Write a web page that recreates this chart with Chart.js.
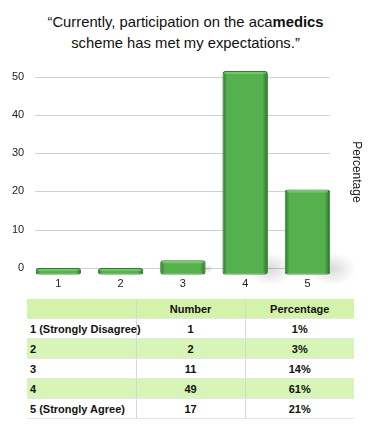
<!DOCTYPE html>
<html>
<head>
<meta charset="utf-8">
<script src="https://cdn.jsdelivr.net/npm/chart.js@4"></script>
<style>
  body { margin: 0; background: #fff; font-family: "Liberation Sans", Arial, sans-serif; }
  #title { position: absolute; left: 0; top: 12px; width: 371px; text-align: center;
           font-size: 14.8px; line-height: 21px; color: #111; }
  #wrap { position: absolute; left: 0; top: 55px; width: 381px; height: 242px; }
  #tbl { position: absolute; left: 27px; top: 299px; width: 327px; border-collapse: collapse;
         table-layout: fixed; font-size: 11px; font-weight: bold; color: #111; }
  #tbl td { height: 19px; padding: 0 3px; border-bottom: 1px solid #e6e6e6; border-left: 1px solid #d6d6d6;
            text-align: center; white-space: nowrap; }
  #tbl td:first-child { text-align: left; border-left: none; }
  #tbl tr.g td { background: #d6f5b6; }
  #tbl tr.h td { background: #d3f2aa; }
</style>
</head>
<body>
<div id="title">&ldquo;Currently, participation on the aca<b>medics</b><br>scheme has met my expectations.&rdquo;</div>
<div id="wrap"><canvas id="myChart"></canvas></div>
<table id="tbl"></table>
<script>
var categories = ['1', '2', '3', '4', '5'];
var barValues = [0, 0, 2, 51.5, 20.5];
var yTicks = [0, 10, 20, 30, 40, 50];

var rowLabels = ['1 (Strongly Disagree)', '2', '3', '4', '5 (Strongly Agree)'];
var numbers = [1, 2, 11, 49, 17];
var percentages = ['1%', '3%', '14%', '61%', '21%'];

// table under the chart
var tbl = document.getElementById('tbl');
var html = '<tr class="h"><td></td><td>Number</td><td>Percentage</td></tr>';
for (let i = 0; i < rowLabels.length; i++) {
  html += '<tr class="' + (i % 2 == 1 ? 'g' : '') + '"><td>' + rowLabels[i] + '</td><td>' +
    numbers[i] + '</td><td>' + percentages[i] + '</td></tr>';
}
tbl.innerHTML = html;

// grid lines only across the bars, floor shadows, bar shading
var decor = {
  id: 'decor',
  beforeDatasetsDraw: function(chart) {
    var ctx = chart.ctx, y = chart.scales.y, a = chart.chartArea;
    ctx.save();
    ctx.strokeStyle = '#d0d0d0';
    ctx.lineWidth = 1;
    yTicks.forEach(function(v) {
      var py = Math.round(y.getPixelForValue(v)) + 0.5;
      ctx.beginPath();
      ctx.moveTo(a.left + 8, py);
      ctx.lineTo(a.right - 9, py);
      ctx.stroke();
    });
    chart.getDatasetMeta(0).data.forEach(function(bar) {
      var h = bar.base - bar.y;
      var r = Math.min(24, h * 0.4);
      if (r < 3) return;
      var cx = bar.x + bar.width / 2 + 2, cy = bar.base - 6;
      var g = ctx.createRadialGradient(cx, cy, 0, cx, cy, r);
      g.addColorStop(0, 'rgba(0,0,0,0.14)');
      g.addColorStop(1, 'rgba(0,0,0,0)');
      ctx.save();
      ctx.translate(cx, cy);
      ctx.scale(1, 0.7);
      ctx.translate(-cx, -cy);
      ctx.fillStyle = g;
      ctx.fillRect(cx - r, cy - r, 2 * r, 2 * r);
      ctx.restore();
    });
    ctx.restore();
  },
  afterDatasetsDraw: function(chart) {
    var ctx = chart.ctx;
    chart.getDatasetMeta(0).data.forEach(function(bar) {
      var l = bar.x - bar.width / 2, r = bar.x + bar.width / 2;
      var g = ctx.createLinearGradient(l, 0, r, 0);
      g.addColorStop(0, 'rgba(15,60,15,0.55)');
      g.addColorStop(0.1, 'rgba(15,60,15,0)');
      g.addColorStop(0.88, 'rgba(15,60,15,0)');
      g.addColorStop(1, 'rgba(15,60,15,0.6)');
      ctx.save();
      ctx.fillStyle = g;
      ctx.fillRect(l + 1, bar.y + 1, bar.width - 2, bar.base - bar.y - 2);
      ctx.fillStyle = 'rgba(150,230,140,0.45)';
      ctx.fillRect(l + 2, bar.y + 1, bar.width - 4, 2);
      ctx.restore();
    });
  }
};

const el = document.getElementById('myChart');
new Chart(el, {
  type: 'bar',
  data: {
    labels: categories,
    datasets: [{
      label: 'Percentage',
      data: barValues,
      base: -1.8,
      backgroundColor: '#55b04e',
      borderColor: '#2f7a2c',
      borderWidth: 1,
      borderRadius: 3,
      borderSkipped: false,
      barPercentage: 0.73,
      categoryPercentage: 1
    }]
  },
  options: {
    responsive: true,
    maintainAspectRatio: false,
    animation: false,
    layout: { padding: { left: 9, right: 13, top: 14, bottom: 3 } },
    plugins: { legend: { display: false }, tooltip: { enabled: false } },
    scales: {
      x: {
        grid: { display: false, drawTicks: false },
        border: { display: false },
        ticks: { color: '#222', font: { size: 11, family: 'Liberation Sans' }, padding: 3 }
      },
      y: {
        min: -1.8,
        max: 52,
        afterBuildTicks: function(s) { s.ticks = yTicks.map(function(v) { return { value: v }; }); },
        grid: { display: false, drawTicks: false },
        border: { display: false },
        ticks: { color: '#222', font: { size: 11, family: 'Liberation Sans' }, padding: 3 }
      },
      yR: {
        position: 'right',
        min: -1.8,
        max: 52,
        grid: { display: false, drawTicks: false },
        border: { display: false },
        ticks: { display: false },
        title: { display: true, text: 'Percentage', color: '#222', padding: { top: 4, bottom: 11 },
                 font: { size: 12, family: 'Liberation Sans' } }
      }
    }
  },
  plugins: [decor]
});
</script>
</body>
</html>
